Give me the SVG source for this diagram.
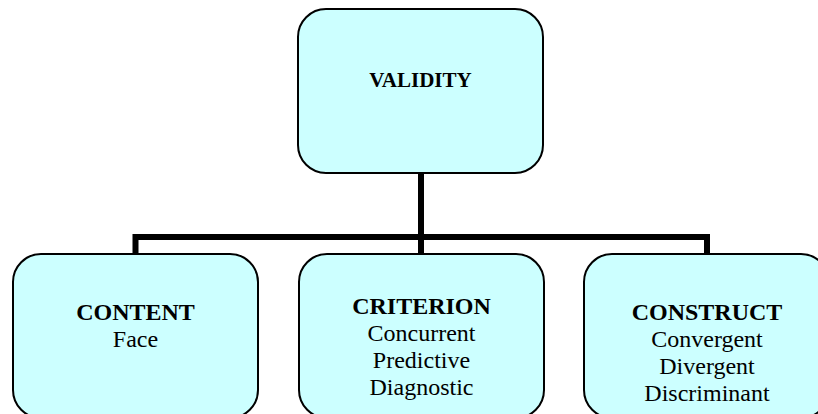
<svg xmlns="http://www.w3.org/2000/svg" width="818" height="414" viewBox="0 0 818 414">
<style>
.box{fill:#CCFFFF;stroke:#000;stroke-width:2}
.t{font-family:"Liberation Serif","Times New Roman",serif;font-size:24px;fill:#000;text-anchor:middle}
.b{font-weight:bold}
.conn{fill:none;stroke:#000;stroke-width:6;stroke-linejoin:miter;stroke-linecap:butt}
</style>
<rect width="818" height="414" fill="#fff"/>
<g id="connectors">
<path class="conn" d="M421,173 V254"/>
<path class="conn" d="M135.5,254 V237 H707 V254"/>
</g>
<g id="validity">
<rect class="box" x="298" y="9" width="245" height="164" rx="28" ry="28"/>
<text class="t b" x="420.5" y="87" style="font-size:21px">VALIDITY</text>
</g>
<g id="content">
<rect class="box" x="13" y="254" width="245" height="164" rx="28" ry="28"/>
<text class="t b" x="135.5" y="320">CONTENT</text>
<text class="t" x="135.5" y="347">Face</text>
</g>
<g id="criterion">
<rect class="box" x="299" y="254" width="245" height="164" rx="28" ry="28"/>
<text class="t b" x="421.5" y="314">CRITERION</text>
<text class="t" x="421.5" y="341">Concurrent</text>
<text class="t" x="421.5" y="368">Predictive</text>
<text class="t" x="421.5" y="395">Diagnostic</text>
</g>
<g id="construct">
<rect class="box" x="584" y="254" width="245" height="164" rx="28" ry="28"/>
<text class="t b" x="707" y="320">CONSTRUCT</text>
<text class="t" x="707" y="347">Convergent</text>
<text class="t" x="707" y="374">Divergent</text>
<text class="t" x="707" y="401">Discriminant</text>
</g>
</svg>
